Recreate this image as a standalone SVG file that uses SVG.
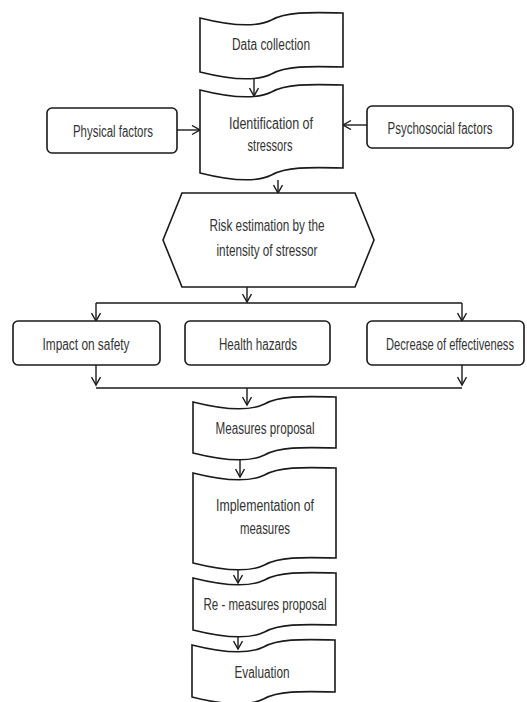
<svg xmlns="http://www.w3.org/2000/svg" width="527" height="702" viewBox="0 0 527 702">
<style>
.shape{fill:#fff;stroke:#1a1a1a;stroke-width:1.6}
.conn{fill:none;stroke:#1a1a1a;stroke-width:1.4}
text{font-family:"Liberation Sans","DejaVu Sans",sans-serif;font-size:16px;fill:#333;text-anchor:middle}
</style>
<defs>
<marker id="arr" markerUnits="userSpaceOnUse" markerWidth="12" markerHeight="12" refX="9" refY="5" orient="auto">
<path d="M1,0.5 L9,5 L1,9.5" fill="none" stroke="#1a1a1a" stroke-width="1.4"/>
</marker>
</defs>
<rect width="527" height="702" fill="#fff"/>
<g id="connectors">
<line class="conn" x1="254" y1="76" x2="254" y2="96" marker-end="url(#arr)"/>
<line class="conn" x1="177" y1="130" x2="200" y2="130" marker-end="url(#arr)"/>
<line class="conn" x1="367" y1="125" x2="343" y2="125" marker-end="url(#arr)"/>
<line class="conn" x1="278" y1="180" x2="278" y2="193" marker-end="url(#arr)"/>
<line class="conn" x1="247" y1="287" x2="247" y2="302" marker-end="url(#arr)"/>
<line class="conn" x1="96" y1="303" x2="462" y2="303"/>
<line class="conn" x1="96" y1="303" x2="96" y2="321" marker-end="url(#arr)"/>
<line class="conn" x1="462" y1="303" x2="462" y2="321" marker-end="url(#arr)"/>
<line class="conn" x1="96" y1="365" x2="96" y2="385" marker-end="url(#arr)"/>
<line class="conn" x1="462" y1="365" x2="462" y2="385" marker-end="url(#arr)"/>
<line class="conn" x1="96" y1="388" x2="462" y2="388"/>
<line class="conn" x1="247" y1="388" x2="247" y2="405" marker-end="url(#arr)"/>
<line class="conn" x1="240" y1="459" x2="240" y2="477" marker-end="url(#arr)"/>
<line class="conn" x1="238" y1="569" x2="238" y2="583" marker-end="url(#arr)"/>
<line class="conn" x1="238" y1="634" x2="238" y2="649" marker-end="url(#arr)"/>
</g>
<g id="data-collection">
<path class="shape" d="M200 18 C235.75 27 257.2 27 271.5 20 C285.8 12 307.25 12 343 13 L343 67 C307.25 66 285.8 66 271.5 74 C257.2 81 235.75 81 200 72 Z"/>
<text x="271" y="50" textLength="78" lengthAdjust="spacingAndGlyphs">Data collection</text>
</g>
<g id="identification">
<path class="shape" d="M200 90 C235.75 99 257.2 99 271.5 92 C285.8 84 307.25 84 343 85 L343 168 C307.25 167 285.8 167 271.5 175 C257.2 182 235.75 182 200 173 Z"/>
<text x="271" y="129" textLength="84" lengthAdjust="spacingAndGlyphs">Identification of</text>
<text x="270" y="151" textLength="45" lengthAdjust="spacingAndGlyphs">stressors</text>
</g>
<g id="physical">
<rect class="shape" x="47" y="108" width="130" height="45" rx="5"/>
<text x="113" y="137" textLength="80" lengthAdjust="spacingAndGlyphs">Physical factors</text>
</g>
<g id="psychosocial">
<rect class="shape" x="367" y="106" width="146" height="42" rx="5"/>
<text x="440" y="134" textLength="105" lengthAdjust="spacingAndGlyphs">Psychosocial factors</text>
</g>
<g id="risk-estimation">
<polygon class="shape" points="182,193 355,193 374,240 355,287 182,287 163,240"/>
<text x="267" y="231" textLength="115" lengthAdjust="spacingAndGlyphs">Risk estimation by the</text>
<text x="267" y="256" textLength="101" lengthAdjust="spacingAndGlyphs">intensity of stressor</text>
</g>
<g id="impact-safety">
<rect class="shape" x="13" y="321" width="147" height="44" rx="5"/>
<text x="86" y="350" textLength="87" lengthAdjust="spacingAndGlyphs">Impact on safety</text>
</g>
<g id="health-hazards">
<rect class="shape" x="185" y="321" width="145" height="44" rx="5"/>
<text x="258" y="350" textLength="78" lengthAdjust="spacingAndGlyphs">Health hazards</text>
</g>
<g id="decrease-effectiveness">
<rect class="shape" x="367" y="321" width="157" height="44" rx="5"/>
<text x="450" y="350" textLength="128" lengthAdjust="spacingAndGlyphs">Decrease of effectiveness</text>
</g>
<g id="measures-proposal">
<path class="shape" d="M193 402 C228.75 411 250.2 411 264.5 404 C278.8 396 300.25 396 336 397 L336 448 C300.25 447 278.8 447 264.5 455 C250.2 462 228.75 462 193 453 Z"/>
<text x="265" y="434" textLength="99" lengthAdjust="spacingAndGlyphs">Measures proposal</text>
</g>
<g id="implementation">
<path class="shape" d="M193 473 C228.75 482 250.2 482 264.5 475 C278.8 467 300.25 467 336 468 L336 558 C300.25 557 278.8 557 264.5 565 C250.2 572 228.75 572 193 563 Z"/>
<text x="265" y="511" textLength="98" lengthAdjust="spacingAndGlyphs">Implementation of</text>
<text x="265" y="534" textLength="50" lengthAdjust="spacingAndGlyphs">measures</text>
</g>
<g id="re-measures">
<path class="shape" d="M193 578 C228.75 587 250.2 587 264.5 580 C278.8 572 300.25 572 336 573 L336 625 C300.25 624 278.8 624 264.5 632 C250.2 639 228.75 639 193 630 Z"/>
<text x="265" y="610" textLength="123" lengthAdjust="spacingAndGlyphs">Re - measures proposal</text>
</g>
<g id="evaluation">
<path class="shape" d="M192 645 C227.75 654 249.2 654 263.5 647 C277.8 639 299.25 639 335 640 L335 692 C299.25 691 277.8 691 263.5 699 C249.2 706 227.75 706 192 697 Z"/>
<text x="262" y="678" textLength="55" lengthAdjust="spacingAndGlyphs">Evaluation</text>
</g>
</svg>
